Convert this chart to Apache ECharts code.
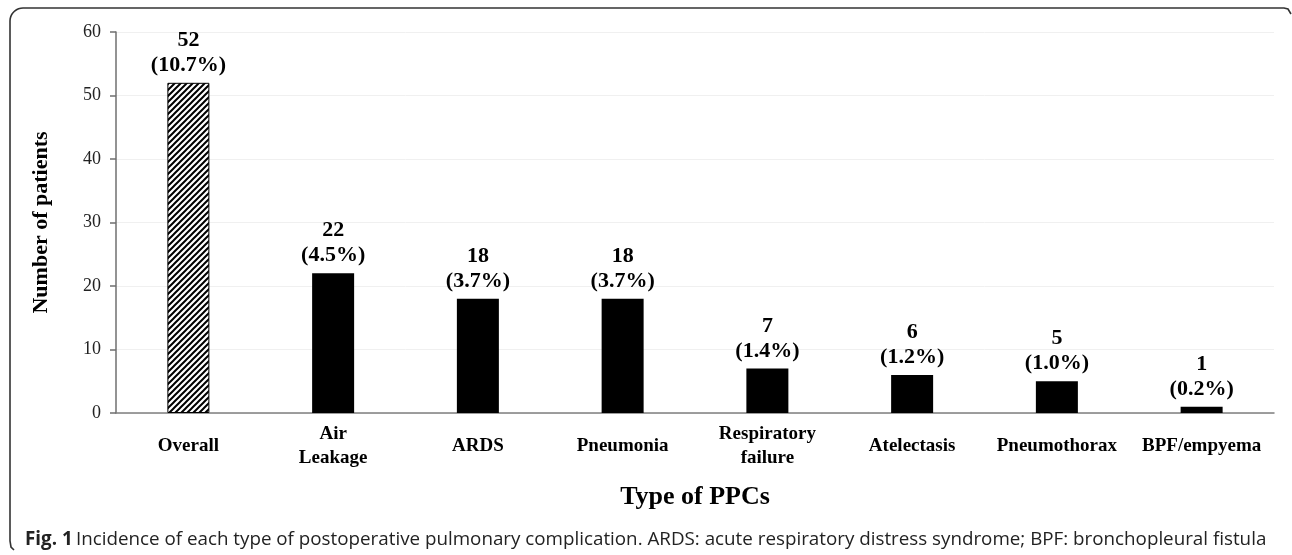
<!DOCTYPE html>
<html>
<head>
<meta charset="utf-8">
<script src="https://cdn.jsdelivr.net/npm/echarts@6/dist/echarts.min.js"></script>
<style>
  html, body { margin: 0; padding: 0; background: #fff; }
  #chart { width: 1292px; height: 555px; }
</style>
</head>
<body>
<div id="chart"></div>
<script>
// chart data
var categories = ["Overall", "Air\nLeakage", "ARDS", "Pneumonia", "Respiratory\nfailure", "Atelectasis", "Pneumothorax", "BPF/empyema"];
var counts = [52, 22, 18, 18, 7, 6, 5, 1];
var percents = ["10.7%", "4.5%", "3.7%", "3.7%", "1.4%", "1.2%", "1.0%", "0.2%"];
var yTicks = [0, 10, 20, 30, 40, 50, 60];

var serif = "'Liberation Serif', 'Times New Roman', serif";
var sans = "'Open Sans', 'Noto Sans', sans-serif";

// diagonal hatch for the "Overall" bar
function hatchPattern() {
  var c = document.createElement("canvas");
  c.width = 6;
  c.height = 6;
  var ctx = c.getContext("2d");
  ctx.fillStyle = "#fff";
  ctx.fillRect(0, 0, 6, 6);
  ctx.strokeStyle = "#000";
  ctx.lineWidth = 2;
  ctx.beginPath();
  ctx.moveTo(-1, 7); ctx.lineTo(7, -1);
  ctx.moveTo(-1, 1); ctx.lineTo(1, -1);
  ctx.moveTo(5, 7); ctx.lineTo(7, 5);
  ctx.stroke();
  return { image: c, repeat: "repeat" };
}

var barData = counts.map(function (v, i) {
  if (i === 0) {
    return { value: v, itemStyle: { color: hatchPattern(), borderColor: "#000", borderWidth: 1 } };
  }
  return { value: v };
});

// frame: left + top edge with a rounded corner
var framePts = [[14, 550], [11, 547], [10, 541], [10, 21]];
for (var a = 180; a <= 270; a += 10) {
  var r = a * Math.PI / 180;
  framePts.push([23 + 13 * Math.cos(r), 21 + 13 * Math.sin(r)]);
}
framePts.push([1284, 8], [1288, 9], [1291, 14]);

var chart = echarts.init(document.getElementById("chart"));

var option = {
  backgroundColor: "#fff",
  animation: false,
  grid: { left: 116, right: 18, top: 32, bottom: 142 },
  xAxis: {
    type: "category",
    data: categories,
    name: "Type of PPCs",
    nameLocation: "middle",
    nameGap: 71,
    nameTextStyle: { fontFamily: serif, fontSize: 26, fontWeight: "bold", color: "#000" },
    axisLine: { lineStyle: { color: "#7f7f7f", width: 1.5 } },
    axisTick: { show: false },
    axisLabel: {
      interval: 0,
      fontFamily: serif,
      fontSize: 19,
      fontWeight: "bold",
      color: "#000",
      lineHeight: 24,
      verticalAlign: "middle",
      margin: 33
    }
  },
  yAxis: {
    type: "value",
    min: yTicks[0],
    max: yTicks[yTicks.length - 1],
    interval: 10,
    name: "Number of patients",
    nameLocation: "middle",
    nameGap: 64,
    nameTextStyle: { fontFamily: serif, fontSize: 22, fontWeight: "bold", color: "#000" },
    axisLine: { show: true, lineStyle: { color: "#6f6f6f", width: 1.5 } },
    axisTick: { show: true, length: 6, lineStyle: { color: "#6f6f6f", width: 1.5 } },
    axisLabel: { fontFamily: serif, fontSize: 18, color: "#222", margin: 15 },
    splitLine: { lineStyle: { color: "#f0f0f0", width: 1 } }
  },
  series: [
    {
      type: "bar",
      data: barData,
      barWidth: 42,
      itemStyle: { color: "#000" },
      label: {
        show: true,
        position: "top",
        distance: 5,
        fontFamily: serif,
        fontSize: 22,
        fontWeight: "bold",
        color: "#000",
        lineHeight: 25,
        formatter: function (p) {
          return p.value + "\n(" + percents[p.dataIndex] + ")";
        }
      }
    }
  ],
  graphic: [
    {
      type: "polyline",
      shape: { points: framePts },
      style: { fill: null, stroke: "#333", lineWidth: 1.6 }
    },
    {
      type: "text",
      left: 25,
      top: 530,
      style: {
        rich: {
          b: { fontFamily: sans, fontSize: 18.8, fontWeight: "bold", fill: "#222" },
          n: { fontFamily: sans, fontSize: 18.8, fill: "#222" }
        },
        text: "{b|Fig. 1} {n|Incidence of each type of postoperative pulmonary complication. ARDS: acute respiratory distress syndrome; BPF: bronchopleural fistula}"
      }
    }
  ]
};

chart.setOption(option);
</script>
</body>
</html>
